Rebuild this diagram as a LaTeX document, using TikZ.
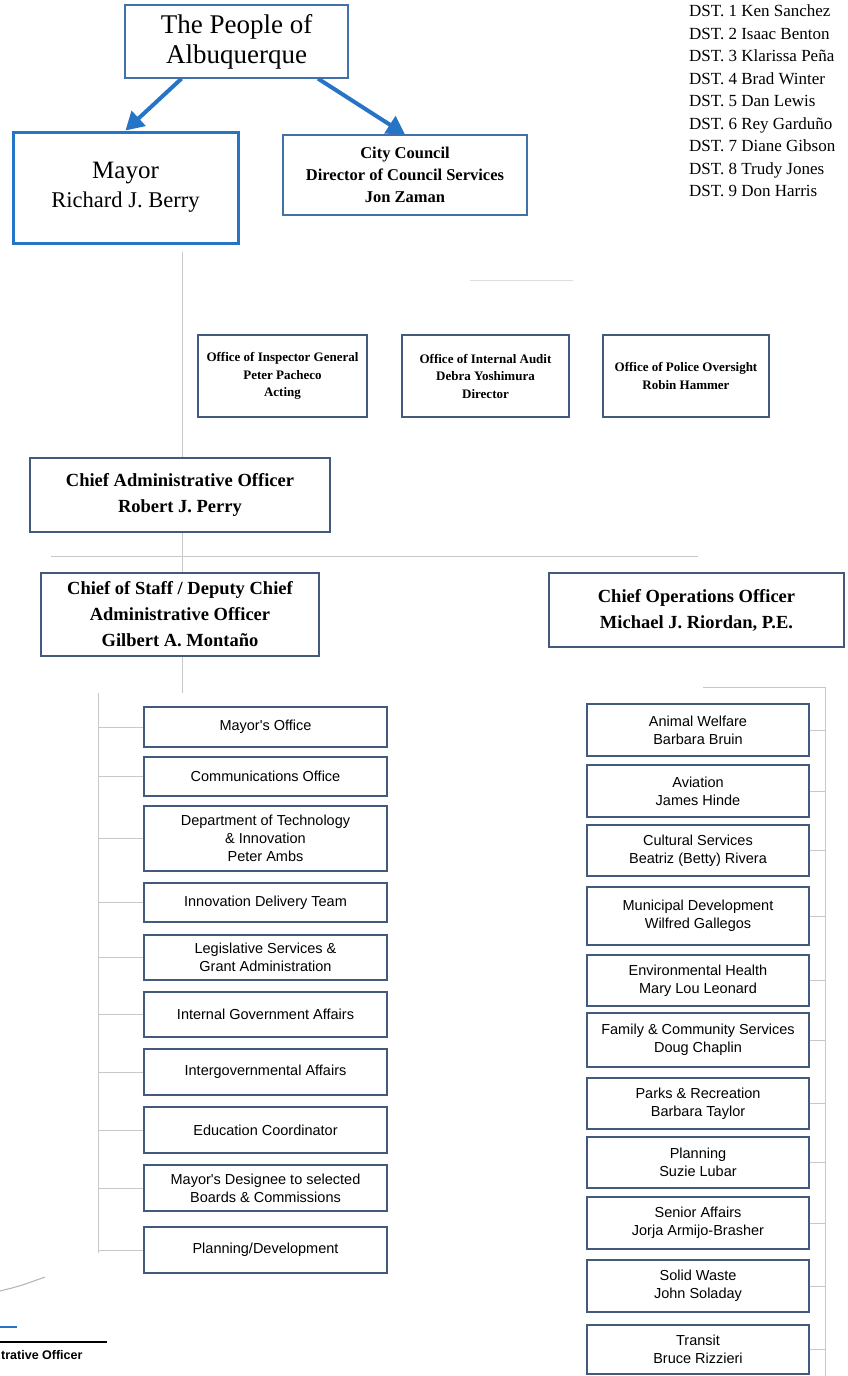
\documentclass[tikz,border=0pt]{standalone}
\usepackage{fontspec}
\setmainfont{Liberation Serif}
\newfontfamily\deptfont{Liberation Sans}
\usetikzlibrary{calc,arrows.meta}
\definecolor{arrowblue}{RGB}{38,116,198}
\definecolor{edgeblue}{RGB}{66,112,170}
\definecolor{boxline}{RGB}{68,90,124}
\definecolor{linkgray}{RGB}{200,200,200}
\tikzset{
	topbox/.style={draw=edgeblue, line width=1.2pt, fill=white, align=center, inner sep=0pt},
	mayorbox/.style={draw=arrowblue, line width=3pt, fill=white, align=center, inner sep=0pt},
	officebox/.style={draw=boxline, line width=1.3pt, fill=white, align=center, inner sep=0pt, font=\bfseries\fontsize{13}{17.5}\selectfont},
	chiefbox/.style={draw=boxline, line width=1.3pt, fill=white, align=center, inner sep=0pt, font=\bfseries\fontsize{18.5}{26}\selectfont},
	deptbox/.style={draw=boxline, line width=1.3pt, fill=white, align=center, inner sep=0pt, font=\deptfont\fontsize{14.5}{18}\selectfont},
	link/.style={draw=linkgray, line width=1pt},
	bigarrow/.style={draw=arrowblue, line width=4pt, -{Triangle[length=18pt,width=20pt]}},
}

\begin{document}
\begin{tikzpicture}[x=1pt, y=-1pt]
		%%%%% START %%%%%
		\useasboundingbox[fill=white] (0,0) rectangle (848,1376);
		
		% connector lines first, boxes are filled white on top
		\coordinate (trunktop) at (182,252);
		\coordinate (trunkend) at (182,693);
		\coordinate (splitL) at (51,556);
		\coordinate (splitR) at (698,556);
		\coordinate (leftbus) at (98,693);
		\coordinate (leftbusend) at (98,1253);
		\coordinate (rightcap) at (703,687);
		\coordinate (rightbus) at (825,687);
		\coordinate (rightbusend) at (825,1376);
		\coordinate (faintL) at (470,280);
		\coordinate (faintR) at (573,280);
		
		\draw[link] (trunktop) -- (trunkend);
		\draw[link] (splitL) -- (splitR);
		\draw[link] (leftbus) -- (leftbusend);
		\draw[link] (rightcap) -- (rightbus) -- (rightbusend);
		\draw[link, draw=linkgray!60] (faintL) -- (faintR);
		
		% top
		\node[topbox, minimum width=223pt, minimum height=73pt, font=\fontsize{27}{30}\selectfont] (people) at (236.5,41.5) {The People of\\Albuquerque};
		\node[mayorbox, minimum width=225pt, minimum height=111pt] (mayor) at (125.5,187.5) {\fontsize{25}{30}\selectfont Mayor\\[7pt]\fontsize{22.5}{30}\selectfont Richard J. Berry};
		\node[topbox, minimum width=244pt, minimum height=80pt, font=\bfseries\fontsize{16.5}{22}\selectfont] (council) at (405,175) {City Council\\Director of Council Services\\Jon Zaman};
		
		\draw[bigarrow] ($(people.south)+(-55,0)$) -- (mayor.north);
		\draw[bigarrow] ($(people.south)+(81.5,0)$) -- (council.north);
		
		\node[anchor=north west, align=left, inner sep=0pt, font=\fontsize{17}{22.5}\selectfont] (districts) at (689,5) {DST. 1 Ken Sanchez\\DST. 2 Isaac Benton\\DST. 3 Klarissa Peña\\DST. 4 Brad Winter\\DST. 5 Dan Lewis\\DST. 6 Rey Garduño\\DST. 7 Diane Gibson\\DST. 8 Trudy Jones\\DST. 9 Don Harris};
		
		% offices
		\node[officebox, minimum width=169pt, minimum height=82pt] (inspector) at (282.5,376) {Office of Inspector General\\Peter Pacheco\\Acting};
		\node[officebox, minimum width=167pt, minimum height=82pt] (audit) at (485.5,376) {Office of Internal Audit\\Debra Yoshimura\\Director};
		\node[officebox, minimum width=166pt, minimum height=82pt] (police) at (686,376) {Office of Police Oversight\\Robin Hammer};
		
		% chiefs
		\node[chiefbox, minimum width=300pt, minimum height=74pt] (cao) at (180,495) {Chief Administrative Officer\\Robert J. Perry};
		\node[chiefbox, minimum width=278pt, minimum height=83pt] (cos) at (180,614.5) {Chief of Staff / Deputy Chief\\Administrative Officer\\Gilbert A. Montaño};
		\node[chiefbox, minimum width=295pt, minimum height=74pt] (coo) at (696.5,610) {Chief Operations Officer\\Michael J. Riordan, P.E.};
		
		% mayor side departments
		\node[deptbox, minimum width=243pt, minimum height=40pt] (mayoroffice) at (265.5,727) {Mayor's Office};
		\node[deptbox, minimum width=243pt, minimum height=39pt] (comms) at (265.5,776.5) {Communications Office};
		\node[deptbox, minimum width=243pt, minimum height=65pt] (doti) at (265.5,838.5) {Department of Technology\\\& Innovation\\Peter Ambs};
		\node[deptbox, minimum width=243pt, minimum height=39pt] (idt) at (265.5,902.5) {Innovation Delivery Team};
		\node[deptbox, minimum width=243pt, minimum height=45pt] (legis) at (265.5,957.5) {Legislative Services \&\\Grant Administration};
		\node[deptbox, minimum width=243pt, minimum height=45pt] (intgov) at (265.5,1014.5) {Internal Government Affairs};
		\node[deptbox, minimum width=243pt, minimum height=46pt] (intergov) at (265.5,1072) {Intergovernmental Affairs};
		\node[deptbox, minimum width=243pt, minimum height=46pt] (educ) at (265.5,1130) {Education Coordinator};
		\node[deptbox, minimum width=243pt, minimum height=46pt] (designee) at (265.5,1188) {Mayor's Designee to selected\\Boards \& Commissions};
		\node[deptbox, minimum width=243pt, minimum height=46pt] (plandev) at (265.5,1250) {Planning/Development};
		
		\foreach \n in {mayoroffice,comms,doti,idt,legis,intgov,intergov,educ,designee,plandev}
			\draw[link] (leftbus |- \n.west) -- (\n.west);
		
		% operations side departments
		\node[deptbox, minimum width=222pt, minimum height=52pt] (animal) at (698,730) {Animal Welfare\\Barbara Bruin};
		\node[deptbox, minimum width=222pt, minimum height=52pt] (aviation) at (698,791) {Aviation\\James Hinde};
		\node[deptbox, minimum width=222pt, minimum height=51pt] (cultural) at (698,850.5) {Cultural Services\\Beatriz (Betty) Rivera};
		\node[deptbox, minimum width=222pt, minimum height=58pt] (municipal) at (698,916) {Municipal Development\\Wilfred Gallegos};
		\node[deptbox, minimum width=222pt, minimum height=51pt] (envhealth) at (698,980.5) {Environmental Health\\Mary Lou Leonard};
		\node[deptbox, minimum width=222pt, minimum height=54pt] (family) at (698,1040) {Family \& Community Services\\Doug Chaplin};
		\node[deptbox, minimum width=222pt, minimum height=51pt] (parks) at (698,1103.5) {Parks \& Recreation\\Barbara Taylor};
		\node[deptbox, minimum width=222pt, minimum height=51pt] (planning) at (698,1162.5) {Planning\\Suzie Lubar};
		\node[deptbox, minimum width=222pt, minimum height=52pt] (senior) at (698,1223) {Senior Affairs\\Jorja Armijo-Brasher};
		\node[deptbox, minimum width=222pt, minimum height=52pt] (solidwaste) at (698,1286) {Solid Waste\\John Soladay};
		\node[deptbox, minimum width=222pt, minimum height=49pt] (transit) at (698,1349.5) {Transit\\Bruce Rizzieri};
		
		\foreach \n in {animal,aviation,cultural,municipal,envhealth,family,parks,planning,senior,solidwaste,transit}
			\draw[link] (\n.east) -- (rightbus |- \n.east);
		
		% cut off edge of the page below
		\draw[gray!60, line width=1pt] (0,1291) .. controls (20,1286) .. (45,1277);
		\draw[arrowblue, line width=2pt] (0,1327) -- (17,1327);
		\draw[black, line width=1.5pt] (0,1342) -- (107,1342);
		\node[anchor=west, inner sep=0pt, font=\deptfont\bfseries\fontsize{12.5}{15}\selectfont] (cutlabel) at (1,1355) {trative Officer};
		%%%%% END %%%%%
\end{tikzpicture}
\end{document}
